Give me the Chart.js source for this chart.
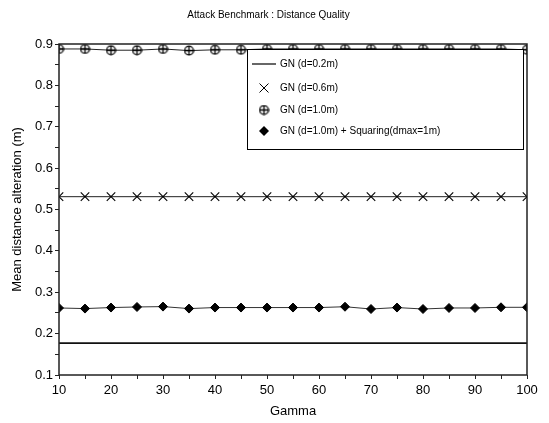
<!DOCTYPE HTML>
<html>
  <head>
    <script src="https://cdn.jsdelivr.net/npm/chart.js"></script>
    <style>
      body { margin: 0; background: #fff; }
    </style>
  </head>
  <body>
    <div style="position: relative; width: 549px; height: 423px;">
      <canvas id="dist-chart"></canvas>
    </div>

    <script>
      // data
      const gamma = [10, 15, 20, 25, 30, 35, 40, 45, 50, 55, 60, 65, 70, 75, 80, 85, 90, 95, 100];
      const gn02 = [0.177, 0.177, 0.177, 0.177, 0.177, 0.177, 0.177, 0.177, 0.177, 0.177, 0.177, 0.177, 0.177, 0.177, 0.177, 0.177, 0.177, 0.177, 0.177];
      const gn06 = [0.531, 0.531, 0.531, 0.531, 0.531, 0.531, 0.531, 0.531, 0.531, 0.531, 0.531, 0.531, 0.531, 0.531, 0.531, 0.531, 0.531, 0.531, 0.531];
      const gn10 = [0.888, 0.888, 0.885, 0.885, 0.888, 0.884, 0.886, 0.886, 0.888, 0.888, 0.888, 0.888, 0.888, 0.888, 0.888, 0.888, 0.888, 0.888, 0.886];
      const gnSq = [0.262, 0.2605, 0.263, 0.2644, 0.2653, 0.2605, 0.263, 0.263, 0.263, 0.263, 0.263, 0.265, 0.2595, 0.263, 0.2595, 0.262, 0.262, 0.2636, 0.2636];
      const seriesLabels = ['GN (d=0.2m)', 'GN (d=0.6m)', 'GN (d=1.0m)', 'GN (d=1.0m) + Squaring(dmax=1m)'];

      function pts(values) {
        return gamma.map(function(g, i) { return {x: g, y: values[i]}; });
      }

      // circle with a plus inside
      const oplus = document.createElement('canvas');
      oplus.width = 11; oplus.height = 11;
      const octx = oplus.getContext('2d');
      octx.strokeStyle = '#000';
      octx.lineWidth = 1.3;
      octx.beginPath();
      octx.arc(5.5, 5.5, 4.4, 0, Math.PI * 2);
      octx.moveTo(5.5, 0.5); octx.lineTo(5.5, 10.5);
      octx.moveTo(0.5, 5.5); octx.lineTo(10.5, 5.5);
      octx.stroke();

      const frameAndLegend = {
        id: 'frameAndLegend',
        afterDatasetsDraw(chart) {
          const ctx = chart.ctx;
          const a = chart.chartArea;
          ctx.save();
          // frame
          ctx.strokeStyle = '#222';
          ctx.lineWidth = 1.5;
          ctx.strokeRect(a.left, a.top, a.right - a.left, a.bottom - a.top);

          // legend box
          const bx = 247, by = 49, bw = 276, bh = 100;
          ctx.fillStyle = '#fff';
          ctx.fillRect(bx, by, bw, bh);
          ctx.strokeStyle = '#000';
          ctx.lineWidth = 1;
          ctx.strokeRect(bx + 0.5, by + 0.5, bw, bh);

          ctx.font = '10px "Liberation Sans", Arial, sans-serif';
          ctx.fillStyle = '#000';
          ctx.textBaseline = 'middle';
          const rows = [64, 88, 110, 131];
          const mx = 264;
          // line sample
          ctx.beginPath();
          ctx.moveTo(252, rows[0]); ctx.lineTo(276, rows[0]);
          ctx.lineWidth = 1.2;
          ctx.stroke();
          // cross
          ctx.beginPath();
          ctx.lineWidth = 1;
          ctx.moveTo(mx - 4.5, rows[1] - 4.5); ctx.lineTo(mx + 4.5, rows[1] + 4.5);
          ctx.moveTo(mx + 4.5, rows[1] - 4.5); ctx.lineTo(mx - 4.5, rows[1] + 4.5);
          ctx.stroke();
          // oplus
          ctx.drawImage(oplus, mx - 5.5, rows[2] - 5.5);
          // diamond
          ctx.beginPath();
          ctx.moveTo(mx, rows[3] - 5); ctx.lineTo(mx + 5, rows[3]);
          ctx.lineTo(mx, rows[3] + 5); ctx.lineTo(mx - 5, rows[3]);
          ctx.closePath();
          ctx.fill();

          chart.data.datasets.forEach(function(ds, i) {
            ctx.fillText(ds.label, 280, rows[i]);
          });
          ctx.restore();
        }
      };

      const font = '"Liberation Sans", Arial, sans-serif';
      const dist_context = document.getElementById('dist-chart');
      dist_chart = new Chart(dist_context, {
        type: 'line',
        data: {
          datasets: [{
            label: seriesLabels[0],
            data: pts(gn02),
            borderColor: '#111',
            borderWidth: 1.6,
            pointRadius: 0
          }, {
            label: seriesLabels[1],
            data: pts(gn06),
            borderColor: '#222',
            borderWidth: 1,
            pointStyle: 'crossRot',
            pointRadius: 6,
            pointBorderColor: '#000',
            pointBorderWidth: 1.1
          }, {
            label: seriesLabels[2],
            data: pts(gn10),
            borderColor: '#222',
            borderWidth: 1,
            pointStyle: oplus
          }, {
            label: seriesLabels[3],
            data: pts(gnSq),
            borderColor: '#333',
            borderWidth: 1,
            pointStyle: 'rectRot',
            pointRadius: 4.5,
            pointBackgroundColor: '#000',
            pointBorderColor: '#000',
            pointBorderWidth: 1
          }]
        },
        options: {
          responsive: true,
          maintainAspectRatio: false,
          animation: false,
          layout: { padding: { left: 10, right: 22, top: 0, bottom: 4 } },
          plugins: {
            legend: { display: false },
            tooltip: { enabled: false },
            title: {
              display: true,
              text: 'Attack Benchmark : Distance Quality',
              color: '#000',
              font: { family: font, size: 10, weight: 'normal' },
              padding: { top: 9, bottom: 23 }
            }
          },
          scales: {
            x: {
              type: 'linear',
              min: 10,
              max: 100,
              afterFit: function(s) { s.height = 44; },
              grid: { drawOnChartArea: false, tickLength: 4, color: '#222', tickWidth: 1 },
              border: { display: false },
              ticks: {
                stepSize: 5,
                autoSkip: false,
                maxRotation: 0,
                padding: 4,
                color: '#000',
                font: { family: font, size: 13 },
                callback: function(v) { return v % 10 === 0 ? String(v) : ''; }
              },
              title: {
                display: true,
                text: 'Gamma',
                color: '#000',
                font: { family: font, size: 13 },
                padding: { top: 1, bottom: 0 }
              }
            },
            y: {
              min: 0.1,
              max: 0.9,
              afterFit: function(s) { s.width = 49; },
              grid: { drawOnChartArea: false, tickLength: 4, color: '#222', tickWidth: 1 },
              border: { display: false },
              ticks: {
                stepSize: 0.05,
                autoSkip: false,
                padding: 2,
                color: '#000',
                font: { family: font, size: 13 },
                callback: function(v) {
                  const k = Math.round(v * 100);
                  return k % 10 === 0 ? (k / 100).toFixed(1) : '';
                }
              },
              title: {
                display: true,
                text: 'Mean distance alteration (m)',
                color: '#000',
                font: { family: font, size: 13 },
                padding: { top: 0, bottom: 0 }
              }
            }
          }
        },
        plugins: [frameAndLegend]
      });
    </script>
  </body>
</html>
